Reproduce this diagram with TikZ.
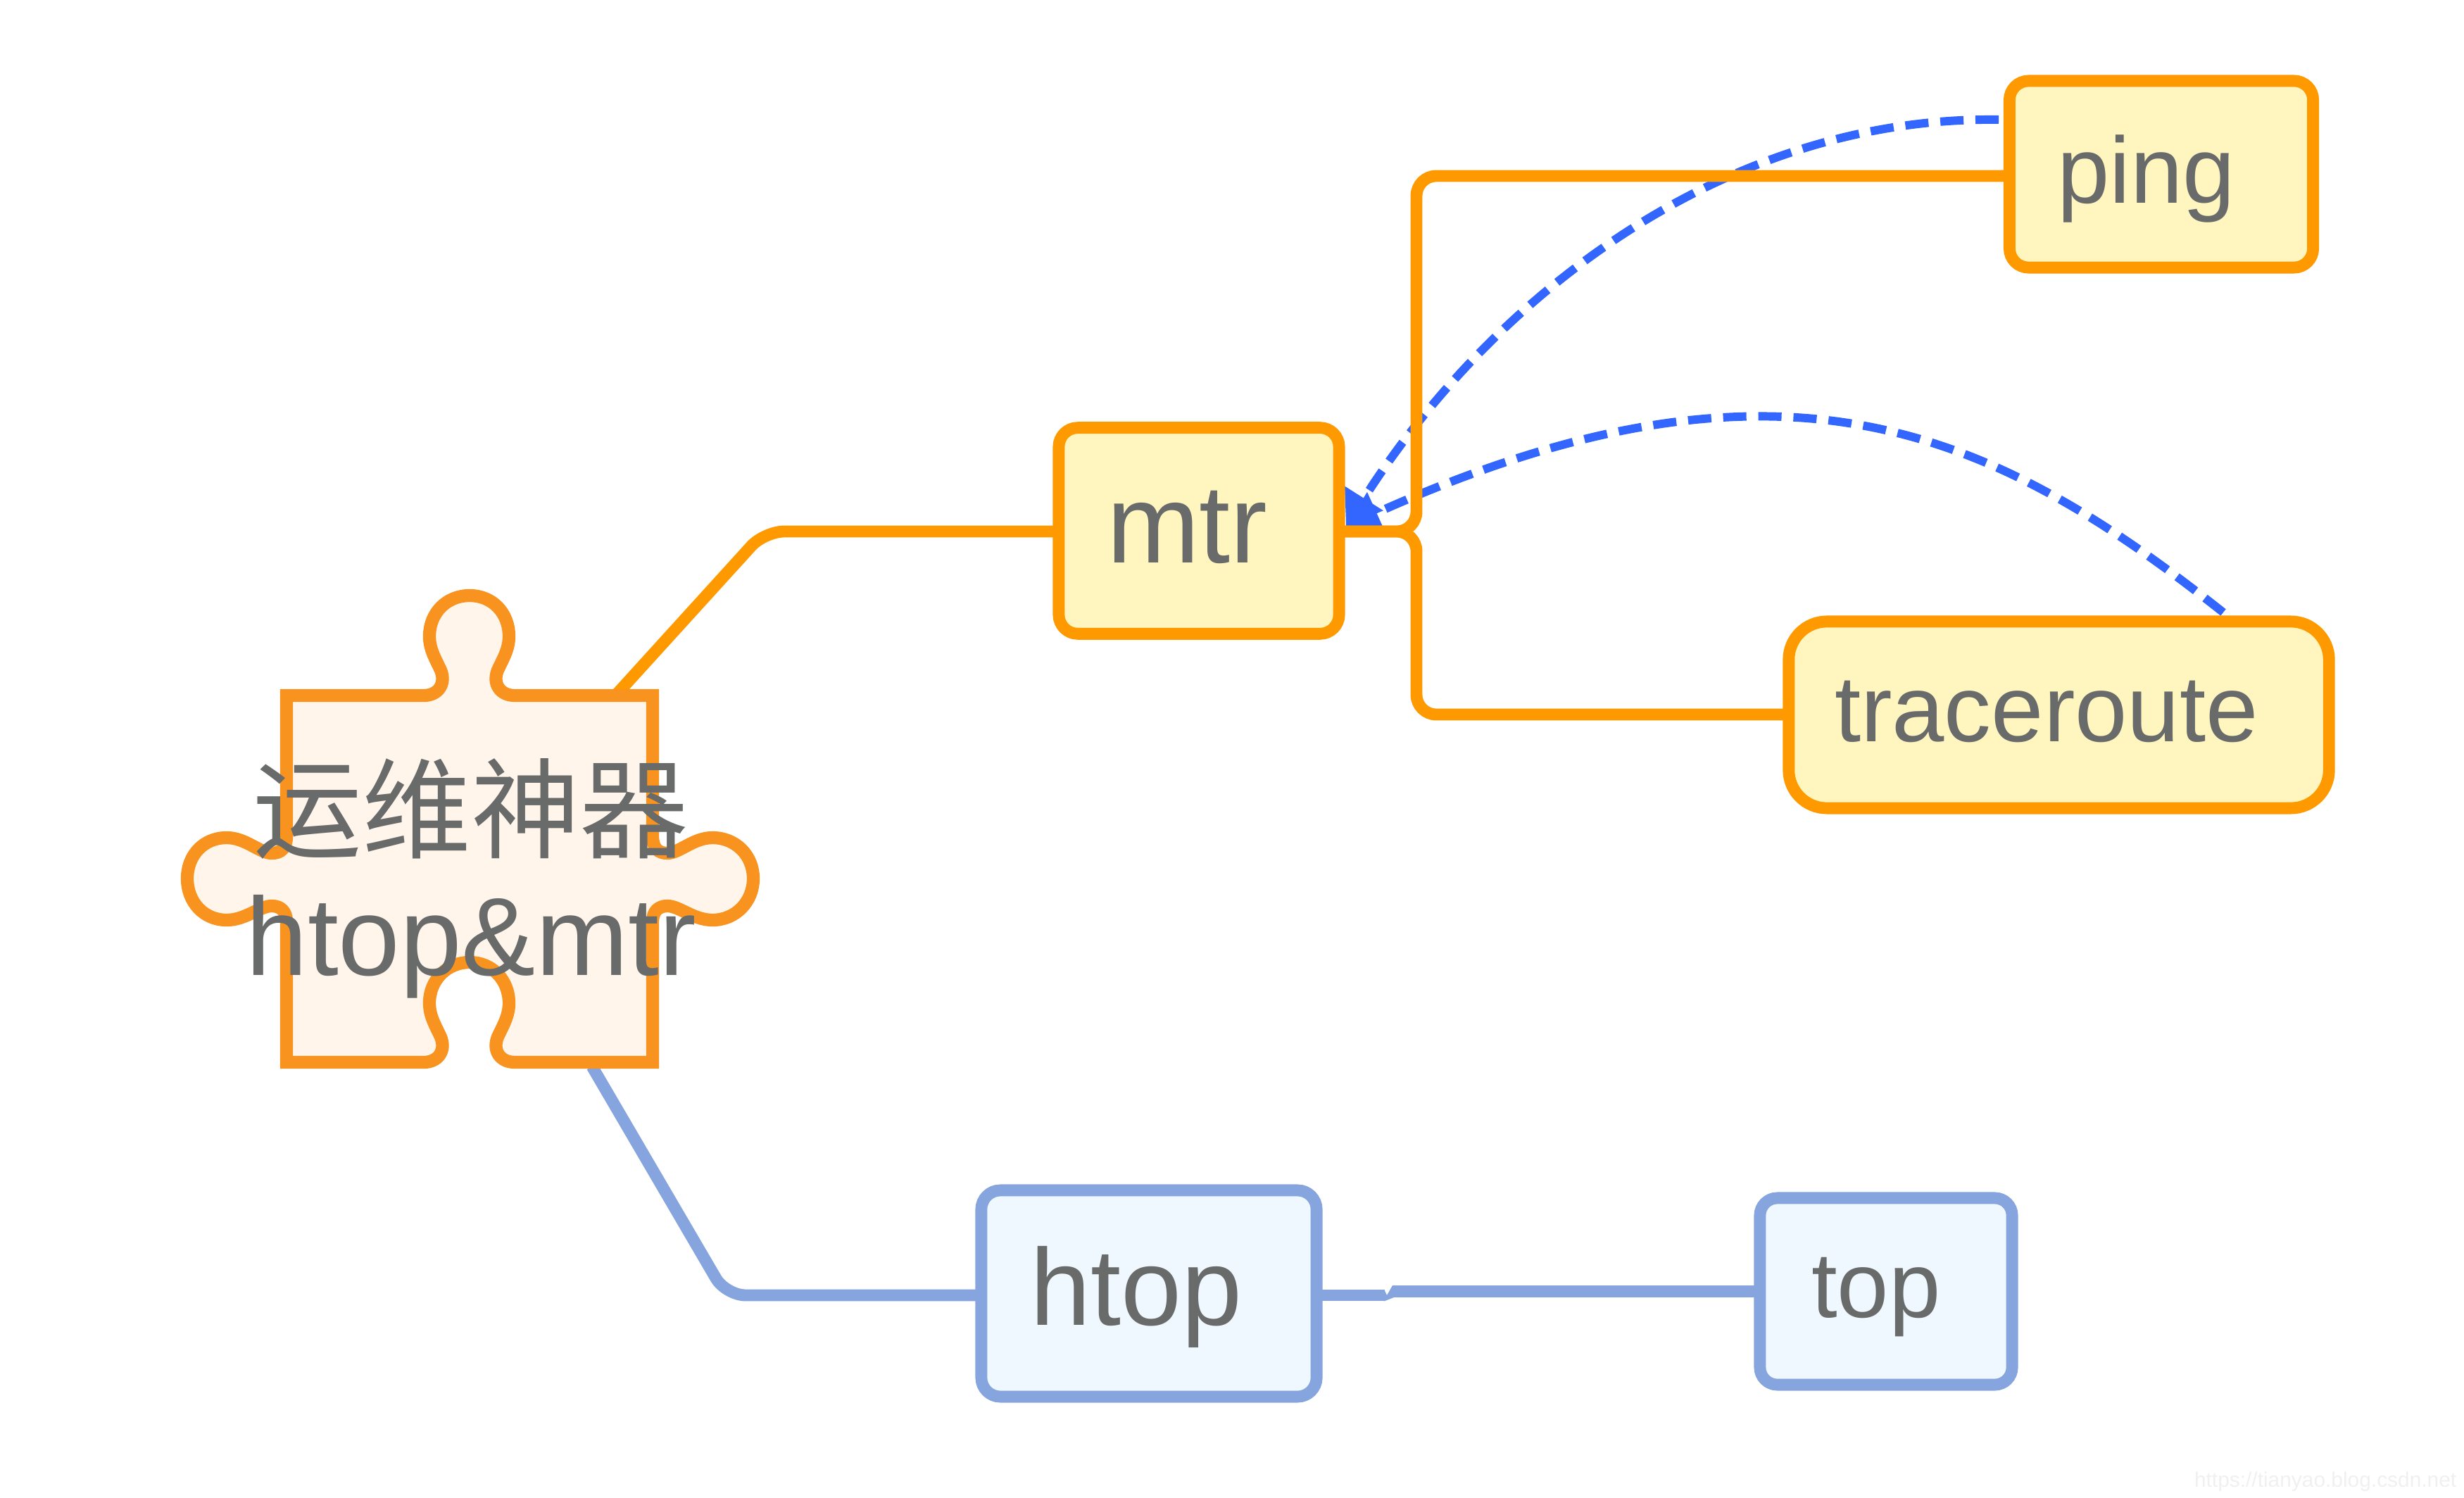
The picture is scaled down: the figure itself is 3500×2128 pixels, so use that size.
\documentclass[tikz,border=0pt]{standalone}
\usepackage{fontspec}
\setmainfont{Liberation Sans}
\newfontfamily\cjk{Noto Sans CJK SC}
\usetikzlibrary{arrows.meta,backgrounds}
\definecolor{orangeline}{HTML}{FF9900}
\definecolor{puzzleline}{HTML}{F7931E}
\definecolor{puzzlefill}{HTML}{FFF5EA}
\definecolor{yellowfill}{HTML}{FFF5BF}
\definecolor{blueline}{HTML}{86A4DE}
\definecolor{bluefill}{HTML}{EFF8FF}
\definecolor{dashblue}{HTML}{3366FF}
\definecolor{labelgrey}{HTML}{696B6B}
\definecolor{markgrey}{HTML}{F0F0F0}
\tikzset{
  x=0.01cm,y=-0.01cm,
  orangebox/.style={draw=orangeline,fill=yellowfill,line width=4.8pt,rounded corners=7.7pt,inner sep=0pt,outer sep=0pt},
  bluebox/.style={draw=blueline,fill=bluefill,line width=4.8pt,rounded corners=7.7pt,inner sep=0pt,outer sep=0pt},
  lab/.style={text=labelgrey,anchor=base west,inner sep=0pt,outer sep=0pt},
  orangelink/.style={draw=orangeline,line width=4.8pt,rounded corners=8pt},
  bluelink/.style={draw=blueline,line width=4.8pt,rounded corners=8pt},
  dashlink/.style={draw=dashblue,line width=3.4pt,dash pattern=on 9.4pt off 4.8pt,-{Triangle[length=13.5pt,width=17.5pt]}},
}
\begin{document}
\begin{tikzpicture}
\useasboundingbox (0,0) rectangle (3500,2128);
% puzzle
\draw[draw=puzzleline,fill=puzzlefill,line width=5.2pt,line join=miter]
 (407,988) -- (602,988)
 .. controls (622,988) and (634,972) .. (626,952)
 .. controls (618,935) and (610,922) .. (610,904)
 .. controls (610,870) and (635,846) .. (667,846)
 .. controls (699,846) and (723,870) .. (723,904)
 .. controls (723,922) and (715,935) .. (707,952)
 .. controls (699,972) and (711,988) .. (731,988)
 -- (927,988) -- (927,1188)
 .. controls (927,1205) and (935,1212) .. (948,1212)
 .. controls (965,1212) and (985,1190) .. (1012,1190)
 .. controls (1045,1190) and (1070,1215) .. (1070,1248)
 .. controls (1070,1281) and (1045,1307) .. (1012,1307)
 .. controls (985,1307) and (965,1287) .. (948,1287)
 .. controls (935,1287) and (927,1295) .. (927,1309)
 -- (927,1509) -- (731,1509)
 .. controls (711,1509) and (699,1493) .. (707,1473)
 .. controls (715,1456) and (723,1443) .. (723,1425)
 .. controls (723,1392) and (699,1367) .. (667,1367)
 .. controls (635,1367) and (610,1392) .. (610,1425)
 .. controls (610,1443) and (618,1456) .. (626,1473)
 .. controls (634,1493) and (622,1509) .. (602,1509)
 -- (407,1509) -- (407,1309)
 .. controls (407,1295) and (399,1287) .. (386,1287)
 .. controls (369,1287) and (349,1307) .. (322,1307)
 .. controls (289,1307) and (266,1281) .. (266,1248)
 .. controls (266,1215) and (289,1190) .. (322,1190)
 .. controls (349,1190) and (369,1212) .. (386,1212)
 .. controls (399,1212) and (407,1205) .. (407,1188)
 -- cycle;
\coordinate (rootNE) at (877,985);
\coordinate (rootSE) at (841,1515);
\node[anchor=center,text=labelgrey,inner sep=0pt] (rootcn) at (669,1149) {\fontsize{44}{44}\selectfont\cjk 运维神器};
\node[lab,anchor=base] (rootlat) at (669,1385) {\fontsize{44.8}{44.8}\selectfont htop\&mtr};
% boxes
\node[orangebox,minimum width=3.98cm,minimum height=2.925cm] (mtr) at (1703,754) {};
\node[orangebox,minimum width=4.31cm,minimum height=2.65cm] (ping) at (3070,247.5) {};
\node[orangebox,rounded corners=15.4pt,minimum width=7.67cm,minimum height=2.65cm] (trace) at (2924.5,1015.5) {};
\node[bluebox,minimum width=4.76cm,minimum height=2.93cm] (htop) at (1632,1837.5) {};
\node[bluebox,rounded corners=7pt,minimum width=3.58cm,minimum height=2.65cm] (top) at (2679,1834.5) {};
\node[lab] (mtrt) at (1572,799) {\fontsize{45}{45}\selectfont mtr};
\node[lab] (pingt) at (2922,289) {\fontsize{38}{38}\selectfont ping};
\node[lab] (tracet) at (2606,1053) {\fontsize{38}{38}\selectfont traceroute};
\node[lab] (htopt) at (1463,1882) {\fontsize{44}{44}\selectfont htop};
\node[lab] (topt) at (2573,1871) {\fontsize{37.5}{37.5}\selectfont top};
\node[lab,text=markgrey] (mark) at (3117,2112) {\fontsize{8.5}{8.5}\selectfont https://tianyao.blog.csdn.net};
% connectors
\begin{pgfonlayer}{background}
\coordinate (pingout) at (2839,170);
\coordinate (traceout) at (3158,870);
\coordinate (mtrtip) at (1912,748);
\coordinate (kinkA) at (1967,1840);
\coordinate (kinkB) at (1978,1834.5);
\draw[dashlink] (pingout) .. controls (2450,165) and (2120,420) .. (mtrtip);
\draw[dashlink] (traceout) .. controls (2830,610) and (2530,470) .. (mtrtip);
\draw[orangelink] (rootNE) -- (1086,755) -- (mtr.west |- 0,755);
\draw[orangelink] (mtr.east |- 0,755) -- (2012,755) -- (2012,250) -- (ping.west |- 0,250);
\draw[orangelink] (mtr.east |- 0,755) -- (2012,755) -- (2012,1015) -- (trace.west |- 0,1015);
\draw[bluelink] (rootSE) -- (1031,1840) -- (htop.west |- 0,1840);
\draw[draw=blueline,line width=4.8pt] (htop.east |- 0,1840) -- (kinkA);
\draw[draw=blueline,line width=4.8pt] (kinkB) -- (top.west |- 0,1834.5);
\fill[blueline] (1966,1831.5) -- (1970,1840) -- (1978,1826) -- (1980,1843) -- (1966,1848.5) -- cycle;
\end{pgfonlayer}
\end{tikzpicture}
\end{document}
